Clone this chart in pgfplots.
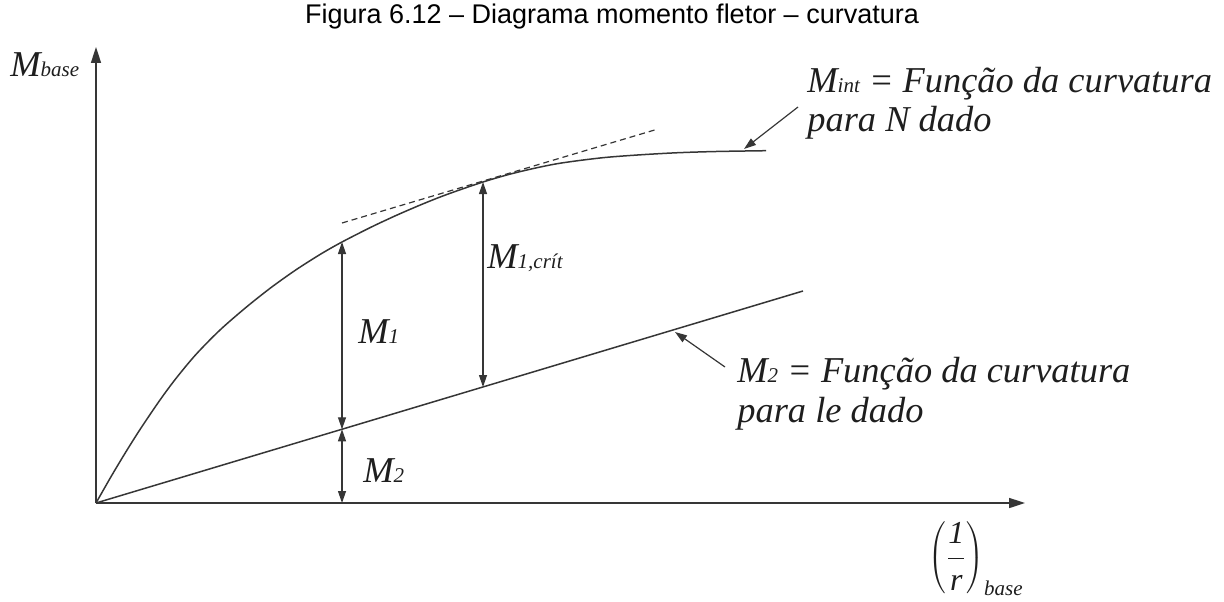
\documentclass[border=0pt]{standalone}
\usepackage{fontspec}
\setmainfont{Liberation Serif}
\newfontfamily\titlefont{Liberation Sans}
\usepackage{pgfplots}
\pgfplotsset{compat=1.18}
\usetikzlibrary{arrows.meta}

\definecolor{ink}{HTML}{363636}
\definecolor{txt}{HTML}{1E1E1E}

\newcommand{\lbl}{\fontsize{18.2}{22}\selectfont\itshape}
\newcommand{\sub}[1]{{\fontsize{10.5}{12}\selectfont #1}}
\newcommand{\frc}[1]{\hbox{\fontsize{16}{18}\selectfont\itshape #1}}

\begin{document}
\begin{tikzpicture}
\begin{axis}[
  x=0.5pt, y=0.5pt,
  xmin=-96, xmax=1128, ymin=-98, ymax=503,
  hide axis, clip=false,
]
% frame of the figure
\path (rel axis cs:0,0) rectangle (rel axis cs:1,1);

% title
\node[anchor=base, inner sep=0, text=black] at (axis cs:516,479)
  {\titlefont\fontsize{13.5}{15}\selectfont Figura 6.12 – Diagrama momento fletor – curvatura};

% axes
\draw[ink, line width=0.8pt, -{Triangle[length=8pt,width=5pt]}] (axis cs:0,0) -- (axis cs:0,456);
\draw[ink, line width=0.8pt, -{Triangle[length=8pt,width=5pt]}] (axis cs:0,0) -- (axis cs:929,0);

% M_int: moment-curvature curve for given N
\addplot[ink, line width=0.75pt, smooth] coordinates {
  (0,0) (15,26.3) (30,51.3) (45,75) (64,103) (80,124.6) (100,148.6)
  (124,173) (150,195.6) (175,215.4) (200,233.2) (225,249.1) (246,261)
  (275,275.8) (300,287.5) (325,298.3) (350,308.2) (387,321) (420,330.4)
  (460,339.1) (504,345) (540,347.9) (580,350.2) (620,351.5) (670,352.3)
};

% M_2: linear function of curvature for given le
\addplot[ink, line width=0.75pt] coordinates {(0,0) (707,212)};

% tangent at the critical point
\addplot[ink, line width=0.6pt, dash pattern=on 3pt off 2pt] coordinates {(246,280) (562,374)};

% dimension arrows
\draw[ink, line width=0.6pt, {Triangle[length=6pt,width=4pt]}-{Triangle[length=6pt,width=4pt]}]
  (axis cs:246,261) -- (axis cs:246,73.7);
\draw[ink, line width=0.6pt, {Triangle[length=6pt,width=4pt]}-{Triangle[length=6pt,width=4pt]}]
  (axis cs:246,73.7) -- (axis cs:246,0);
\draw[ink, line width=0.6pt, {Triangle[length=6pt,width=4pt]}-{Triangle[length=6pt,width=4pt]}]
  (axis cs:387,321) -- (axis cs:387,116);

% pointer arrows
\draw[ink, line width=0.6pt, -{Triangle[length=6pt,width=4pt]}] (axis cs:702,396) -- (axis cs:648,354);
\draw[ink, line width=0.6pt, -{Triangle[length=6pt,width=4pt]}] (axis cs:629,136) -- (axis cs:579,171);

% labels
\node[anchor=base west, inner sep=0, text=txt] at (axis cs:-86,426) {\lbl M\sub{base}};
\node[anchor=base west, inner sep=0, text=txt] at (axis cs:262,160) {\lbl M\sub{1}};
\node[anchor=base west, inner sep=0, text=txt] at (axis cs:267,21) {\lbl M\sub{2}};
\node[anchor=base west, inner sep=0, text=txt] at (axis cs:391,235) {\lbl M\sub{1,crít}};
\node[anchor=base west, inner sep=0, text=txt] at (axis cs:711,411) {\lbl M\sub{int} = Função da curvatura};
\node[anchor=base west, inner sep=0, text=txt] at (axis cs:711,371) {\lbl para N dado};
\node[anchor=base west, inner sep=0, text=txt] at (axis cs:641,121) {\lbl M\sub{2} = Função da curvatura};
\node[anchor=base west, inner sep=0, text=txt] at (axis cs:641,81) {\lbl para le dado};
\node[anchor=south west, inner sep=0, text=txt] at (axis cs:832,-93)
  {\lbl $\displaystyle\left(\frac{\frc{1}}{\frc{r}}\right)_{\hbox{\sub{base}}}$};
\end{axis}
\end{tikzpicture}
\end{document}
